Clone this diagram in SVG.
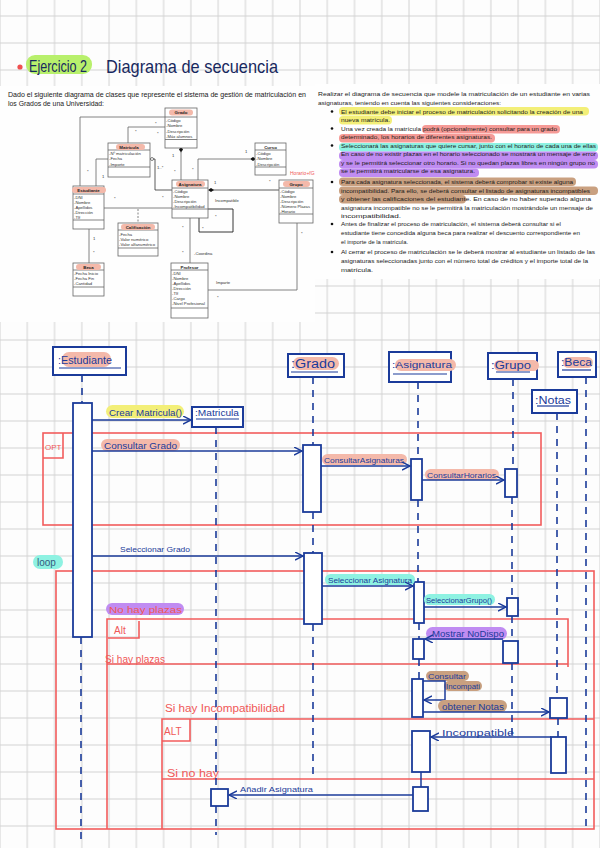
<svg xmlns="http://www.w3.org/2000/svg" width="600" height="848" viewBox="0 0 600 848">
<defs>
<pattern id="grid" width="27.27" height="27" patternUnits="userSpaceOnUse" x="-13.635" y="2.5">
<path d="M13.635,0 V27 M0,13.5 H27.27" stroke="#d2d2d2" stroke-width="1" fill="none"/>
</pattern>
<marker id="arr" markerWidth="10" markerHeight="10" refX="8" refY="4" orient="auto" markerUnits="userSpaceOnUse">
<path d="M0,0 L8,4 L0,8" fill="none" stroke="#1b3b9a" stroke-width="1.4"/>
</marker>
<style>
.hw{font-family:"Liberation Sans","DejaVu Sans",sans-serif;fill:#1b3b9a}
.rd{font-family:"Liberation Sans","DejaVu Sans",sans-serif;fill:#f05858}
.obj{fill:#fff;stroke:#1b3b9a;stroke-width:2}
.act{fill:#fff;stroke:#1b3b9a;stroke-width:1.8}
.life{stroke:#1b3b9a;stroke-width:1.6;stroke-dasharray:7 6;fill:none}
.msg{stroke:#1b3b9a;stroke-width:1.5;fill:none;marker-end:url(#arr)}
.frm{fill:none;stroke:#f25c5c;stroke-width:1.6}
.ul{stroke:#1b3b9a;stroke-width:1.2}
.pk{fill:#f4b9aa}
.ye{fill:#f3ef78}
.cy{fill:#8ef2e2}
.pu{fill:#c08cf2}
.br{fill:#c9a080}
.tx{font-family:"Liberation Sans","DejaVu Sans",sans-serif;fill:#1a1a1a;font-size:6.2px}
.cl{font-family:"Liberation Sans","DejaVu Sans",sans-serif;fill:#333;font-size:4.2px}
.ch{font-family:"Liberation Sans","DejaVu Sans",sans-serif;fill:#222;font-size:4.4px;font-weight:bold}
.cbox{fill:#fff;stroke:#666;stroke-width:0.8}
.cln{stroke:#666;stroke-width:0.8;fill:none}
</style>
</defs>
<rect width="600" height="848" fill="#fdfdfd"/>
<rect width="600" height="848" fill="url(#grid)"/>
<rect x="0" y="86" width="315" height="236" fill="#fefefe"/>
<rect x="315" y="84" width="285" height="195" fill="#fefefe"/>

<!-- Title -->
<g id="title">
<circle cx="20" cy="67" r="2.6" fill="#f05050"/>
<rect x="26" y="55" width="66" height="19" rx="9" fill="#b8f06c"/>
<text x="29" y="72" class="hw" style="fill:#17285e;font-size:16px" textLength="58" lengthAdjust="spacingAndGlyphs">Ejercicio 2</text>
<text x="106" y="73" class="hw" style="fill:#17285e;font-size:19px" textLength="172" lengthAdjust="spacingAndGlyphs">Diagrama de secuencia</text>
</g>

<!-- Left intro text -->
<g id="intro">
<text x="8" y="97" class="tx" style="font-size:6.8px" textLength="298" lengthAdjust="spacingAndGlyphs">Dado el siguiente diagrama de clases que represente el sistema de gestión de matriculación en</text>
<text x="8" y="106" class="tx" style="font-size:6.8px" textLength="96" lengthAdjust="spacingAndGlyphs">los Grados de una Universidad:</text>
</g>

<!-- Right text with highlights -->
<g id="enunciado">
<rect x="339" y="107" width="250" height="8.5" rx="4" class="ye"/>
<rect x="339" y="116" width="53" height="8.5" rx="4" class="ye"/>
<rect x="422" y="125" width="138" height="8.5" rx="4" class="pk" style="fill:#f59a96"/>
<rect x="339" y="134" width="156" height="8.5" rx="4" class="pk" style="fill:#f59a96"/>
<rect x="339" y="143" width="259" height="8.5" rx="4" class="cy"/>
<rect x="339" y="151.5" width="259" height="8.5" rx="4" class="pu"/>
<rect x="339" y="160" width="259" height="8.5" rx="4" class="pu"/>
<rect x="339" y="168.5" width="140" height="8.5" rx="4" class="pu"/>
<rect x="339" y="177.5" width="237" height="8.5" rx="4" class="br"/>
<rect x="339" y="186.5" width="259" height="8.5" rx="4" class="br"/>
<rect x="339" y="195" width="127" height="8.5" rx="4" class="br"/>
<text x="318" y="96" class="tx" textLength="272" lengthAdjust="spacingAndGlyphs">Realizar el diagrama de secuencia que modele la matriculación de un estudiante en varias</text>
<text x="318" y="105" class="tx" textLength="183" lengthAdjust="spacingAndGlyphs">asignaturas, teniendo en cuenta las siguientes consideraciones:</text>
<circle cx="332" cy="111.5" r="1.3" fill="#111"/>
<text x="341" y="113.5" class="tx" textLength="242" lengthAdjust="spacingAndGlyphs">El estudiante debe iniciar el proceso de matriculación solicitando la creación de una</text>
<text x="341" y="122" class="tx" textLength="49" lengthAdjust="spacingAndGlyphs">nueva matrícula.</text>
<circle cx="332" cy="128.5" r="1.3" fill="#111"/>
<text x="341" y="130.5" class="tx" textLength="216" lengthAdjust="spacingAndGlyphs">Una vez creada la matrícula podrá (opcionalmente) consultar para un grado</text>
<text x="341" y="139" class="tx" textLength="151" lengthAdjust="spacingAndGlyphs">determinado, los horarios de diferentes asignaturas.</text>
<circle cx="332" cy="145.5" r="1.3" fill="#111"/>
<text x="341" y="147.5" class="tx" textLength="255" lengthAdjust="spacingAndGlyphs">Seleccionará las asignaturas que quiere cursar, junto con el horario de cada una de ellas</text>
<text x="341" y="156" class="tx" textLength="255" lengthAdjust="spacingAndGlyphs">En caso de no existir plazas en el horario seleccionado se mostrará un mensaje de error</text>
<text x="341" y="164.5" class="tx" textLength="254" lengthAdjust="spacingAndGlyphs">y se le permitirá seleccionar otro horario. Si no quedan plazas libres en ningún grupo no</text>
<text x="341" y="173" class="tx" textLength="134" lengthAdjust="spacingAndGlyphs">se le permitirá matricularse de esa asignatura.</text>
<circle cx="332" cy="182" r="1.3" fill="#111"/>
<text x="341" y="184" class="tx" textLength="232" lengthAdjust="spacingAndGlyphs">Para cada asignatura seleccionada, el sistema deberá comprobar si existe alguna</text>
<text x="341" y="193" class="tx" textLength="249" lengthAdjust="spacingAndGlyphs">incompatibilidad. Para ello, se deberá consultar el listado de asignaturas incompatibles</text>
<text x="341" y="201" class="tx" textLength="250" lengthAdjust="spacingAndGlyphs">y obtener las calificaciones del estudiante. En caso de no haber superado alguna</text>
<text x="341" y="209.5" class="tx" textLength="252" lengthAdjust="spacingAndGlyphs">asignatura incompatible no se le permitirá la matriculación mostrándole un mensaje de</text>
<text x="341" y="218" class="tx" textLength="60" lengthAdjust="spacingAndGlyphs">incompatibilidad.</text>
<circle cx="332" cy="224" r="1.3" fill="#111"/>
<text x="341" y="226" class="tx" textLength="220" lengthAdjust="spacingAndGlyphs">Antes de finalizar el proceso de matriculación, el sistema deberá consultar si el</text>
<text x="341" y="235" class="tx" textLength="239" lengthAdjust="spacingAndGlyphs">estudiante tiene concedida alguna beca para realizar el descuento correspondiente en</text>
<text x="341" y="243.5" class="tx" textLength="67" lengthAdjust="spacingAndGlyphs">el importe de la matrícula.</text>
<circle cx="332" cy="252" r="1.3" fill="#111"/>
<text x="341" y="254" class="tx" textLength="254" lengthAdjust="spacingAndGlyphs">Al cerrar el proceso de matriculación se le deberá mostrar al estudiante un listado de las</text>
<text x="341" y="263" class="tx" textLength="247" lengthAdjust="spacingAndGlyphs">asignaturas seleccionadas junto con el número total de créditos y el importe total de la</text>
<text x="341" y="271.5" class="tx" textLength="32" lengthAdjust="spacingAndGlyphs">matrícula.</text>
</g>

<!-- Class diagram connectors -->
<g id="class-connectors">
<path class="cln" d="M165,117 H80 V186"/>
<path class="cln" d="M128,143 V127 H165"/>
<path class="cln" d="M108,159 H96 V186"/>
<path class="cln" d="M181,152 V180"/>
<path class="cln" d="M150,159 H155 V190 H172" style="stroke:#333"/>
<circle cx="152" cy="159" r="1.5" fill="#fff" stroke="#333" stroke-width="0.6"/>
<path class="cln" d="M250,159 H198 V180"/>
<path class="cln" d="M213,190 H279" style="stroke:#333"/>
<path class="cln" d="M104,208 H172"/>
<path d="M172,209 H233 V232 H199 V218" fill="none" stroke="#222" stroke-width="0.9"/>
<path class="cln" d="M138,209 V223" stroke-dasharray="2 1.5"/>
<path class="cln" d="M89,229 V263"/>
<path class="cln" d="M190,218 V263"/>
<path class="cln" d="M208,290 H297 V223"/>
<path d="M181,146.5 L183,149.5 L181,152.5 L179,149.5Z" fill="#111"/>
<path d="M250,159 L253,157 L256,159 L253,161Z" fill="#111"/>
<path d="M208,190 L211,188 L214,190 L211,192Z" fill="#111"/>
<g class="cl">
<text x="155" y="125">*</text><text x="135" y="133">*</text><text x="157" y="135">*</text>
<text x="172" y="157">1</text><text x="245" y="153">1</text><text x="87" y="173">*</text>
<text x="102" y="178">1</text><text x="157" y="169">1..*</text><text x="174" y="173">*</text>
<text x="192" y="171">*</text><text x="214" y="184">1</text><text x="269" y="183">*</text>
<text x="114" y="200">*</text><text x="162" y="199">*</text><text x="215" y="202">Incompatible</text>
<text x="215" y="218">*</text><text x="202" y="230">*</text><text x="182" y="229">*</text>
<text x="93" y="240">1</text><text x="93" y="254">*</text><text x="182" y="254">*</text>
<text x="194" y="255">-Coordina</text><text x="216" y="284">Imparte</text>
<text x="217" y="299">*</text><text x="301" y="235">*</text>
</g>
<text x="290" y="175" class="rd" style="font-size:5px">Horario+fG</text>
</g>

<!-- Class boxes -->
<g id="cls-grado">
<rect class="cbox" x="165" y="108" width="32" height="40"/>
<path class="cln" d="M165,117 H197 M165,139.5 H197"/>
<rect x="169" y="109.5" width="24" height="6" rx="3" class="pk"/>
<text x="181" y="114" class="ch" text-anchor="middle">Grado</text>
<text x="166" y="121.5" class="cl">-Código</text><text x="166" y="127" class="cl">-Nombre</text>
<text x="166" y="132.5" class="cl">-Descripción</text><text x="166" y="138" class="cl">-Máx alumnos</text>
</g>
<g id="cls-matricula">
<rect class="cbox" x="108" y="143" width="42" height="34"/>
<path class="cln" d="M108,150 H150 M108,167 H150"/>
<rect x="116" y="144" width="29" height="6" rx="3" class="pk"/>
<text x="129" y="148.5" class="ch" text-anchor="middle">Matricula</text>
<text x="109" y="154.5" class="cl">-Nº matriculación</text><text x="109" y="160" class="cl">-Fecha</text><text x="109" y="165.5" class="cl">-Importe</text>
</g>
<g id="cls-curso">
<rect class="cbox" x="255" y="143" width="31" height="32"/>
<path class="cln" d="M255,150 H286 M255,167 H286"/>
<text x="270.5" y="148.5" class="ch" text-anchor="middle">Curso</text>
<text x="256" y="154.5" class="cl">-Código</text><text x="256" y="160" class="cl">-Nombre</text><text x="256" y="165.5" class="cl">-Descripción</text>
</g>
<g id="cls-asignatura">
<rect class="cbox" x="172" y="180" width="36" height="38"/>
<path class="cln" d="M172,188 H208 M172,209 H208"/>
<rect x="176" y="181" width="29" height="6" rx="3" class="pk"/>
<text x="190" y="185.7" class="ch" text-anchor="middle">Asignatura</text>
<text x="173" y="192.5" class="cl">-Código</text><text x="173" y="197.5" class="cl">-Nombre</text>
<text x="173" y="202.5" class="cl">-Descripción</text><text x="173" y="207.5" class="cl">-Incompatibilidad</text>
</g>
<g id="cls-estudiante">
<rect class="cbox" x="73" y="186" width="31" height="43"/>
<path class="cln" d="M73,194 H104 M73,220 H104"/>
<rect x="72" y="187" width="34" height="6" rx="3" class="pk"/>
<text x="88.5" y="191.7" class="ch" text-anchor="middle">Estudiante</text>
<text x="74" y="198.5" class="cl">-DNI</text><text x="74" y="203.5" class="cl">-Nombre</text><text x="74" y="208.5" class="cl">-Apellidos</text>
<text x="74" y="213.5" class="cl">-Dirección</text><text x="74" y="218.5" class="cl">-Tlf</text>
</g>
<g id="cls-grupo">
<rect class="cbox" x="279" y="180" width="34" height="43"/>
<path class="cln" d="M279,188 H313 M279,214 H313"/>
<rect x="283" y="181" width="27" height="6" rx="3" class="pk"/>
<text x="296" y="185.7" class="ch" text-anchor="middle">Grupo</text>
<text x="280" y="192.5" class="cl">-Código</text><text x="280" y="197.5" class="cl">-Nombre</text><text x="280" y="202.5" class="cl">-Descripción</text>
<text x="280" y="207.5" class="cl">-Número Plazas</text><text x="280" y="212.5" class="cl">-Horario</text>
</g>
<g id="cls-calificacion">
<rect class="cbox" x="118" y="223" width="40" height="33"/>
<path class="cln" d="M118,230 H158 M118,248 H158"/>
<rect x="121" y="224" width="34" height="6" rx="3" class="pk"/>
<text x="138" y="228.5" class="ch" text-anchor="middle">Calificación</text>
<text x="119" y="235.5" class="cl">-Fecha</text><text x="119" y="240.5" class="cl">-Valor numérico</text><text x="119" y="245.5" class="cl">-Valor alfanumérico</text>
</g>
<g id="cls-beca">
<rect class="cbox" x="73" y="263" width="31" height="33"/>
<path class="cln" d="M73,270 H104 M73,287 H104"/>
<rect x="76" y="264" width="25" height="6" rx="3" class="pk"/>
<text x="88.5" y="268.5" class="ch" text-anchor="middle">Beca</text>
<text x="74" y="275" class="cl">-Fecha Inicio</text><text x="74" y="280" class="cl">-Fecha Fin</text><text x="74" y="285" class="cl">-Cantidad</text>
</g>
<g id="cls-profesor">
<rect class="cbox" x="171" y="263" width="37" height="55"/>
<path class="cln" d="M171,270 H208 M171,308 H208"/>
<text x="189.5" y="268.5" class="ch" text-anchor="middle">Profesor</text>
<text x="172" y="275" class="cl">-DNI</text><text x="172" y="280" class="cl">-Nombre</text><text x="172" y="285" class="cl">-Apellidos</text>
<text x="172" y="290" class="cl">-Dirección</text><text x="172" y="295" class="cl">-Tlf</text><text x="172" y="300" class="cl">-Cargo</text>
<text x="172" y="305" class="cl">-Nivel Profesional</text>
</g>

<!-- Sequence frames -->
<g id="frames">
<rect class="frm" x="43" y="433" width="498" height="92"/>
<path class="frm" d="M43,458 H63 V433"/>
<text x="45" y="450" class="rd" style="font-size:8px">OPT</text>
<rect x="33" y="555" width="30" height="14" rx="7" class="cy"/>
<text x="37" y="566" class="hw" style="font-size:10px;fill:#355a80">loop</text>
<rect class="frm" x="56" y="571" width="538" height="258"/>
<rect x="106" y="603" width="78" height="12" rx="6" class="pu"/>
<text x="109" y="613" class="rd" style="font-size:9.5px" textLength="73" lengthAdjust="spacingAndGlyphs">No hay plazas</text>
<path class="frm" d="M107,829 V619 H568 V667"/>
<path class="frm" d="M108,638 H139 V621"/>
<text x="114" y="634" class="rd" style="font-size:10px">Alt</text>
<text x="105" y="663" class="rd" style="font-size:10px" textLength="60" lengthAdjust="spacingAndGlyphs">Si hay plazas</text>
<path class="frm" d="M107,664 H568"/>
<text x="165" y="712" class="rd" style="font-size:10px" textLength="120" lengthAdjust="spacingAndGlyphs">Si hay Incompatibilidad</text>
<path class="frm" d="M162,829 V719 H594"/>
<path class="frm" d="M162,741 H190 V719"/>
<text x="164" y="735" class="rd" style="font-size:10px">ALT</text>
<text x="167" y="777" class="rd" style="font-size:10px" textLength="52" lengthAdjust="spacingAndGlyphs">Si no hay</text>
<path class="frm" d="M162,779 H594"/>
</g>

<!-- Lifelines -->
<g id="lifelines">
<path class="life" d="M82,375 V403 M81,637 V845"/>
<path class="life" d="M216,427 V789 M216,806 V835"/>
<path class="life" d="M313,377 V445 M313,512 V553 M313,624 V780"/>
<path class="life" d="M418,382 V459 M418,500 V582 M419,623 V639 M419,659 V679"/>
<path d="M421,772 V787" stroke="#1b3b9a" stroke-width="1.5"/>
<path class="life" d="M513,379 V469 M512,497 V598 M512,616 V641 M512,663 V735"/>
<path class="life" d="M557,413 V698 M558,718 V737"/>
<path class="life" d="M586,377 V830"/>
</g>

<!-- Objects -->
<g id="obj-estudiante">
<rect class="obj" x="53" y="347" width="73" height="28"/>
<rect x="62" y="352" width="49" height="15" rx="7" class="pk"/>
<text x="58" y="364" class="hw" style="font-size:11px" textLength="54" lengthAdjust="spacingAndGlyphs">:Estudiante</text>
<path class="ul" d="M59,368 H121"/>
</g>
<g id="obj-matricula">
<rect class="obj" x="192" y="407" width="51" height="20"/>
<text x="195" y="416" class="hw" style="font-size:8.5px" textLength="44" lengthAdjust="spacingAndGlyphs">:Matricula</text>
<path class="ul" d="M196,419 H239"/>
</g>
<g id="obj-grado">
<rect class="obj" x="288" y="354" width="56" height="23"/>
<rect x="293" y="357" width="46" height="13" rx="6.5" class="pk"/>
<text x="291" y="368" class="hw" style="font-size:12px" textLength="44" lengthAdjust="spacingAndGlyphs">:Grado</text>
<path class="ul" d="M291,372 H338"/>
</g>
<g id="obj-asignatura">
<rect class="obj" x="389" y="352" width="62" height="30"/>
<rect x="395" y="359" width="61" height="12" rx="6" class="pk"/>
<text x="392" y="368" class="hw" style="font-size:9.5px" textLength="60" lengthAdjust="spacingAndGlyphs">:Asignatura</text>
<path class="ul" d="M393,374 H447"/>
</g>
<g id="obj-grupo">
<rect class="obj" x="488" y="353" width="49" height="26"/>
<rect x="494" y="360" width="45" height="11" rx="5.5" class="pk"/>
<text x="491" y="369" class="hw" style="font-size:10px" textLength="40" lengthAdjust="spacingAndGlyphs">:Grupo</text>
<path class="ul" d="M496,372 H530"/>
</g>
<g id="obj-beca">
<rect class="obj" x="558" y="352" width="38" height="25"/>
<rect x="563" y="357" width="30" height="11" rx="5.5" class="pk"/>
<text x="561" y="366" class="hw" style="font-size:10px" textLength="31" lengthAdjust="spacingAndGlyphs">:Beca</text>
<path class="ul" d="M562,370 H591"/>
</g>
<g id="obj-notas">
<rect class="obj" x="532" y="390" width="45" height="23"/>
<text x="535" y="404" class="hw" style="font-size:10px" textLength="36" lengthAdjust="spacingAndGlyphs">:Notas</text>
<path class="ul" d="M537,406 H569"/>
</g>

<!-- Activations -->
<g id="activations">
<rect class="act" x="73" y="403" width="19" height="234"/>
<rect class="act" x="211" y="789" width="17" height="17"/>
<rect class="act" x="303" y="445" width="18" height="67"/>
<rect class="act" x="304" y="553" width="18" height="71"/>
<rect class="act" x="411" y="459" width="11" height="41"/>
<rect class="act" x="414" y="582" width="10" height="41"/>
<rect class="act" x="413" y="639" width="11" height="20"/>
<rect class="act" x="412" y="679" width="11" height="38"/>
<rect class="act" x="412" y="731" width="18" height="41"/>
<rect class="act" x="413" y="787" width="15" height="24"/>
<rect class="act" x="505" y="469" width="12" height="28"/>
<rect class="act" x="507" y="598" width="11" height="18"/>
<rect class="act" x="503" y="641" width="15" height="22"/>
<rect class="act" x="550" y="698" width="17" height="20"/>
<rect class="act" x="551" y="737" width="15" height="36"/>
</g>

<!-- Messages -->
<g id="connectors">
<rect x="106" y="405" width="78" height="13" rx="6.5" class="ye"/>
<text x="109" y="415.5" class="hw" style="font-size:9.5px" textLength="73" lengthAdjust="spacingAndGlyphs">Crear Matricula()</text>
<path class="msg" d="M92,420 H191"/>
<rect x="101" y="439" width="79" height="12" rx="6" class="pk"/>
<text x="104" y="448.5" class="hw" style="font-size:9.5px" textLength="73" lengthAdjust="spacingAndGlyphs">Consultar Grado</text>
<path class="msg" d="M92,451 H302"/>
<rect x="322" y="454" width="85" height="11" rx="5.5" class="pk"/>
<text x="324" y="462.5" class="hw" style="font-size:7.5px" textLength="80" lengthAdjust="spacingAndGlyphs">ConsultarAsignaturas</text>
<path class="msg" d="M321,466 H410"/>
<rect x="425" y="469" width="74" height="11" rx="5.5" class="pk"/>
<text x="427" y="477.5" class="hw" style="font-size:7.5px" textLength="69" lengthAdjust="spacingAndGlyphs">ConsultarHorarios</text>
<path class="msg" d="M422,480 H504"/>
<text x="120" y="552" class="hw" style="font-size:8px" textLength="70" lengthAdjust="spacingAndGlyphs">Seleccionar Grado</text>
<path class="msg" d="M92,556 H303"/>
<rect x="325" y="574" width="90" height="11" rx="5.5" class="cy"/>
<text x="328" y="583" class="hw" style="font-size:8px" textLength="84" lengthAdjust="spacingAndGlyphs">Seleccionar Asignatura</text>
<path class="msg" d="M322,586 H413"/>
<rect x="424" y="594" width="71" height="11" rx="5.5" class="cy"/>
<text x="426" y="603" class="hw" style="font-size:7px" textLength="66" lengthAdjust="spacingAndGlyphs">SeleccionarGrupo()</text>
<path class="msg" d="M424,607 H506"/>
<rect x="426" y="627" width="81" height="13" rx="6.5" class="pu"/>
<text x="432" y="637" class="hw" style="font-size:9.5px" textLength="72" lengthAdjust="spacingAndGlyphs">Mostrar NoDispo</text>
<path class="msg" d="M503,639 H425"/>
<rect x="426" y="671" width="43" height="10" rx="5" class="br"/>
<rect x="444" y="681" width="38" height="10" rx="5" class="br"/>
<text x="428" y="679" class="hw" style="font-size:7.5px" textLength="38" lengthAdjust="spacingAndGlyphs">Consultar</text>
<text x="446" y="689" class="hw" style="font-size:7.5px" textLength="34" lengthAdjust="spacingAndGlyphs">Incompati</text>
<path class="msg" d="M423,681 H445 V700 H424"/>
<rect x="438" y="700" width="69" height="12" rx="6" class="br"/>
<text x="442" y="709.5" class="hw" style="font-size:8.5px" textLength="62" lengthAdjust="spacingAndGlyphs">obtener Notas</text>
<path class="msg" d="M423,712 H549"/>
<text x="442" y="736" class="hw" style="font-size:9.5px" textLength="72" lengthAdjust="spacingAndGlyphs">Incompatible</text>
<path class="msg" d="M551,737 H431"/>
<text x="240" y="792" class="hw" style="font-size:7.5px" textLength="73" lengthAdjust="spacingAndGlyphs">Añadir Asignatura</text>
<path class="msg" d="M413,795 H229"/>
</g>
</svg>
